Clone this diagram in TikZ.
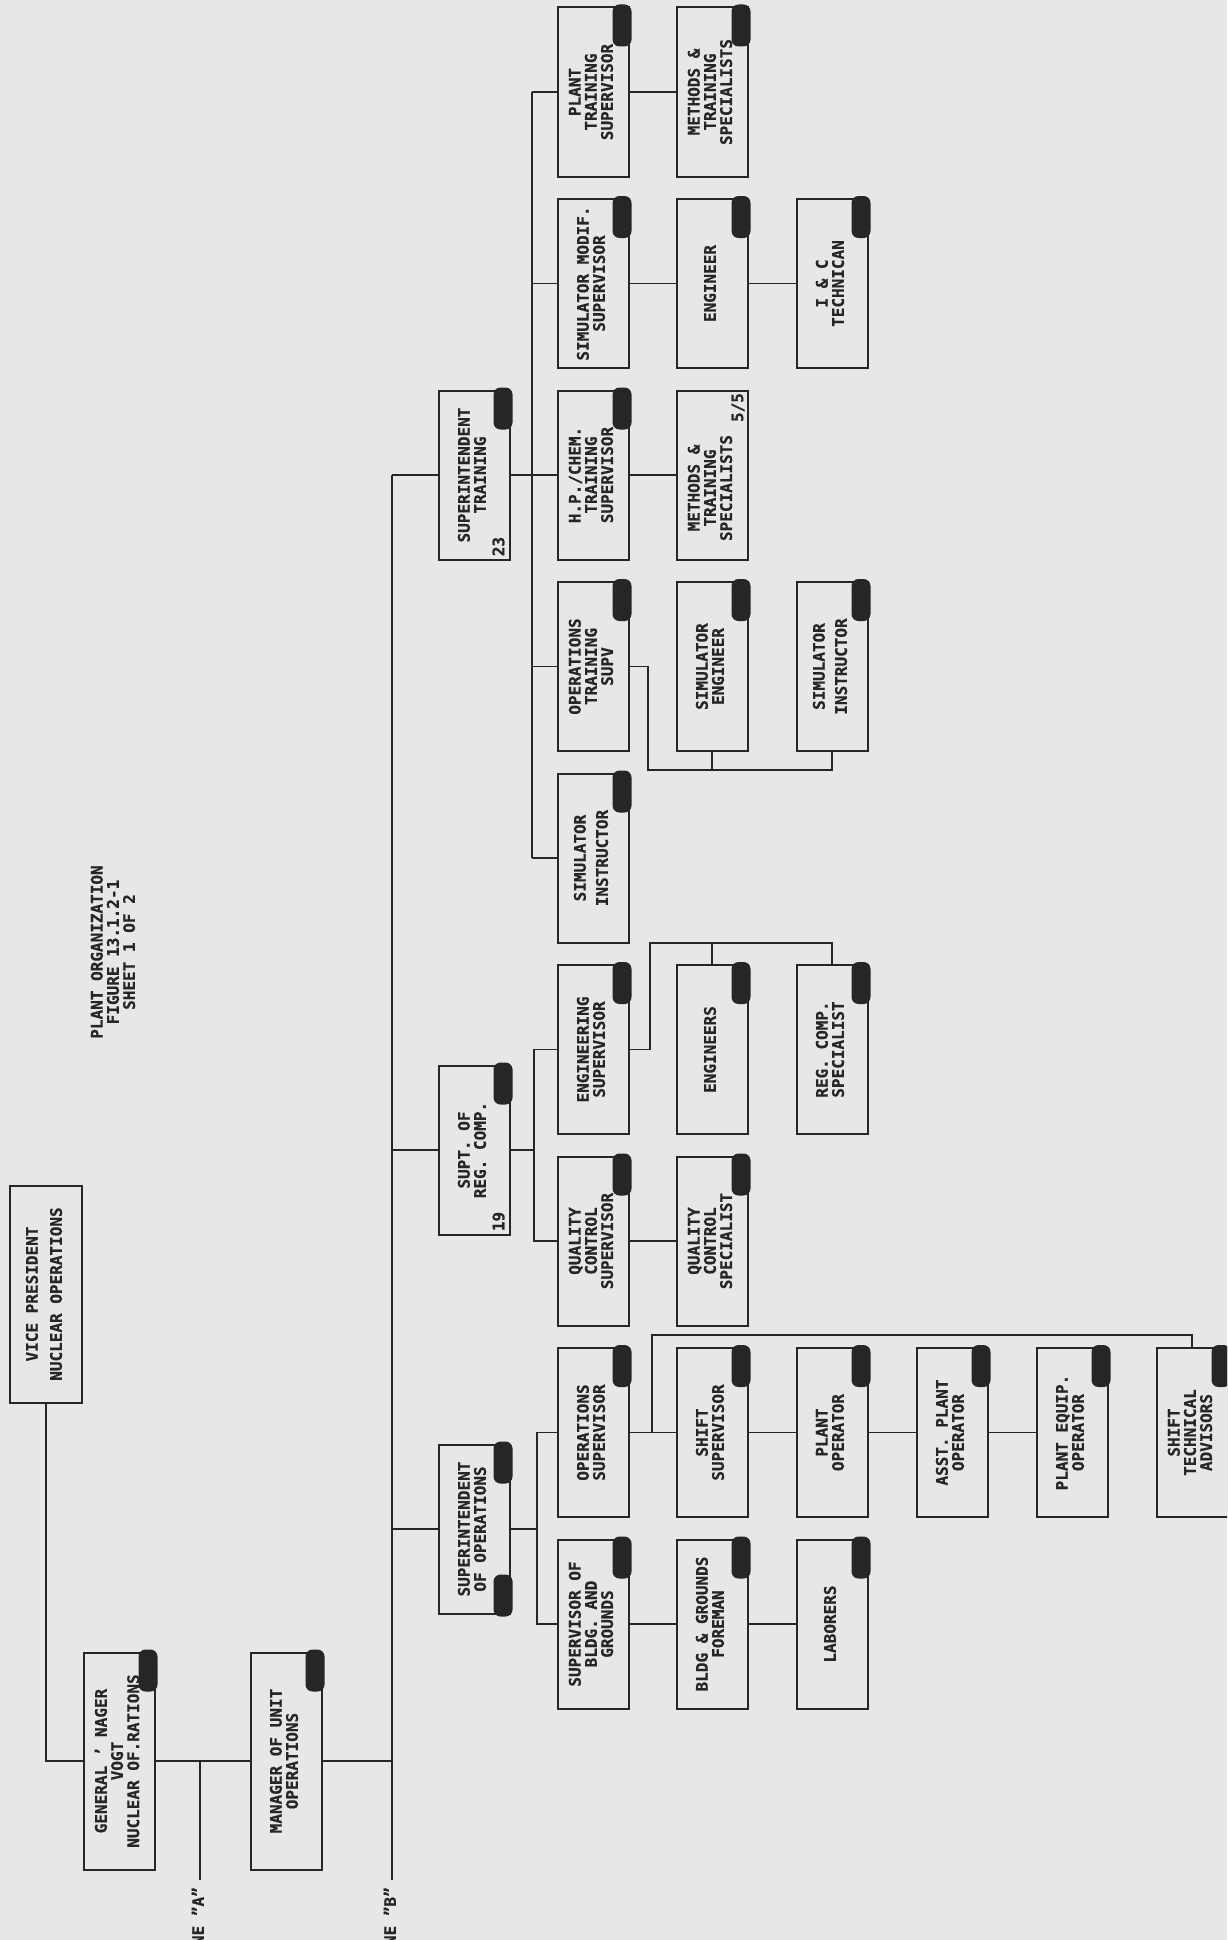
\documentclass[tikz,border=0pt]{standalone}
\usepackage{fontspec}
\setmainfont[FakeBold=0.6]{DejaVu Sans Mono}
\usepackage{graphicx}
\usepackage{xcolor}
\usepackage{tikz}
\usetikzlibrary{positioning}

\definecolor{paper}{HTML}{E7E7E5}
\definecolor{ink}{HTML}{262626}
\newcommand{\chart}{\fontsize{16}{15}\selectfont\bfseries}
\newcommand{\up}[1]{\rotatebox{90}{\begin{tabular}{@{}c@{}}#1\end{tabular}}}
\renewcommand{\arraystretch}{0.95}

\begin{document}
\begin{tikzpicture}[x=1pt,y=-1pt]
    \tikzstyle{post} = [rectangle, draw=ink, line width=2pt, inner sep=0pt,
        minimum width=71pt, minimum height=169pt, text=ink, font=\chart]
    \tikzstyle{head} = [post, minimum height=217pt]
    \tikzstyle{tag} = [inner sep=0pt, text=ink, font=\chart]
    \tikzstyle{link} = [draw=ink, line width=1.2pt]
    \tikzstyle{blot} = [fill=ink, rounded corners=7pt]

    \fill[paper] (0,0) rectangle (1227,1940);
    \clip (0,0) rectangle (1227,1940);

    % heads
    \node (vp) [head, minimum width=72pt] at (46,1294) {\up{VICE PRESIDENT\\[8pt]NUCLEAR OPERATIONS}};
    \node (gm) [head] at (119,1761) {\up{GENERAL ' NAGER\\VOGT\\NUCLEAR OF.RATIONS}};
    \node (muo) [head] at (286,1761) {\up{MANAGER OF UNIT\\OPERATIONS}};
    \node (title) [tag] at (115,952) {\up{PLANT ORGANIZATION\\FIGURE 13.1.2-1\\SHEET 1 OF 2}};

    % superintendents
    \node (suptr) [post] at (474,475) {\up{SUPERINTENDENT\\TRAINING}};
    \node (suprc) [post] at (474,1150) {\up{SUPT. OF\\REG. COMP.}};
    \node (supops) [post] at (474,1529) {\up{SUPERINTENDENT\\OF OPERATIONS}};

    % supervisors
    \node (ptsup) [post] at (593,92) {\up{PLANT\\TRAINING\\SUPERVISOR}};
    \node (simmod) [post] at (593,283.5) {\up{SIMULATOR MODIF.\\SUPERVISOR}};
    \node (hpchem) [post] at (593,475) {\up{H.P./CHEM.\\TRAINING\\SUPERVISOR}};
    \node (optrn) [post] at (593,666.5) {\up{OPERATIONS\\TRAINING\\SUPV}};
    \node (siminsA) [post] at (593,858) {\up{SIMULATOR\\[6pt]INSTRUCTOR}};
    \node (engsup) [post] at (593,1049.5) {\up{ENGINEERING\\SUPERVISOR}};
    \node (qcsup) [post] at (593,1241) {\up{QUALITY\\CONTROL\\SUPERVISOR}};
    \node (opsup) [post] at (593,1432.5) {\up{OPERATIONS\\SUPERVISOR}};
    \node (bldgsup) [post] at (593,1624) {\up{SUPERVISOR OF\\BLDG. AND\\GROUNDS}};

    % staff
    \node (methA) [post] at (712,92) {\up{METHODS \&\\TRAINING\\SPECIALISTS}};
    \node (eng) [post] at (712,283.5) {\up{ENGINEER}};
    \node (methB) [post] at (712,475) {\rotatebox{90}{\begin{tabular}{@{}c@{}}METHODS \&\\TRAINING\\SPECIALISTS\end{tabular}\hspace{26pt}}};
    \node (simeng) [post] at (712,666.5) {\up{SIMULATOR\\ENGINEER}};
    \node (engs) [post] at (712,1049.5) {\up{ENGINEERS}};
    \node (qcspec) [post] at (712,1241) {\up{QUALITY\\CONTROL\\SPECIALIST}};
    \node (shiftsup) [post] at (712,1432.5) {\up{SHIFT\\SUPERVISOR}};
    \node (foreman) [post] at (712,1624) {\up{BLDG \& GROUNDS\\FOREMAN}};

    \node (ictech) [post] at (832,283.5) {\up{I \& C\\TECHNICAN}};
    \node (siminsB) [post] at (832,666.5) {\up{SIMULATOR\\[6pt]INSTRUCTOR}};
    \node (regspec) [post] at (832,1049.5) {\up{REG. COMP.\\SPECIALIST}};
    \node (plantop) [post] at (832,1432.5) {\up{PLANT\\OPERATOR}};
    \node (laborers) [post] at (832,1624) {\up{LABORERS}};

    \node (asstop) [post] at (952,1432.5) {\up{ASST. PLANT\\OPERATOR}};
    \node (equipop) [post] at (1072,1432.5) {\up{PLANT EQUIP.\\OPERATOR}};
    \node (sta) [post] at (1192,1432.5) {\up{SHIFT\\TECHNICAL\\ADVISORS}};

    % counts
    \node (n23) [tag] at ([xshift=-10pt,yshift=14pt]suptr.south east) {\up{23}};
    \node (n19) [tag] at ([xshift=-10pt,yshift=14pt]suprc.south east) {\up{19}};
    \node (n55) [tag] at ([xshift=-9pt,yshift=-18pt]methB.north east) {\up{5/5}};

    % line A and line B
    \coordinate (busA) at (200,1880);
    \coordinate (busB) at (392,1880);
    \node (lblA) [tag, anchor=north] at ([yshift=-7pt]busA) {\up{LINE "A"}};
    \node (lblB) [tag, anchor=north] at ([yshift=-7pt]busB) {\up{LINE "B"}};

    \draw[link] (vp.south) |- (gm.west);
    \draw[link] (gm) -- (muo);
    \draw[link] (gm -| busA) -- (busA);
    \draw[link] (muo.east) -- (muo.east -| busB);
    \draw[link] (suptr.west -| busB) -- (busB);
    \draw[link] (suptr.west -| busB) -- (suptr.west);
    \draw[link] (suprc.west -| busB) -- (suprc.west);
    \draw[link] (supops.west -| busB) -- (supops.west);

    % training
    \coordinate (trn) at (532,0);
    \coordinate (trn2) at (648,770);
    \draw[link] (ptsup.west -| trn) -- (siminsA.west -| trn);
    \foreach \n in {ptsup,simmod,hpchem,optrn,siminsA}
        \draw[link] (\n.west) -- (\n.west -| trn);
    \draw[link] (suptr) -- (hpchem);
    \draw[link] (ptsup) -- (methA);
    \draw[link] (simmod) -- (eng);
    \draw[link] (eng) -- (ictech);
    \draw[link] (hpchem) -- (methB);
    \draw[link] (optrn.east) -| (trn2) -- (trn2 -| siminsB.south) -- (siminsB.south);
    \draw[link] (simeng.south) -- (simeng.south |- trn2);

    % regulatory compliance
    \coordinate (rc) at (534,0);
    \coordinate (rc2) at (650,943);
    \draw[link] (engsup.west) -| (rc |- qcsup.west) -- (qcsup.west);
    \draw[link] (suprc) -- (suprc -| rc);
    \draw[link] (qcsup) -- (qcspec);
    \draw[link] (engsup.east) -| (rc2) -- (rc2 -| regspec.north) -- (regspec.north);
    \draw[link] (engs.north) -- (engs.north |- rc2);

    % operations
    \coordinate (op) at (537,0);
    \coordinate (op2) at (652,1335);
    \draw[link] (opsup.west) -| (op |- bldgsup.west) -- (bldgsup.west);
    \draw[link] (supops) -- (supops -| op);
    \draw[link] (opsup) -- (shiftsup);
    \draw[link] (shiftsup) -- (plantop);
    \draw[link] (plantop) -- (asstop);
    \draw[link] (asstop) -- (equipop);
    \draw[link] (opsup.east -| op2) -- (op2) -| (sta.north);
    \draw[link] (bldgsup) -- (foreman);
    \draw[link] (foreman) -- (laborers);

    % ink blots on the corners
    \foreach \b in {gm,muo,suptr,suprc,supops,ptsup,methA,simmod,eng,ictech,hpchem,
        optrn,simeng,siminsB,siminsA,engsup,engs,regspec,qcsup,qcspec,opsup,
        shiftsup,plantop,asstop,equipop,sta,bldgsup,foreman,laborers}
        \fill[blot] ([xshift=-17pt,yshift=2pt]\b.north east) rectangle ([xshift=2pt,yshift=-40pt]\b.north east);
    \fill[blot] ([xshift=-17pt,yshift=40pt]supops.south east) rectangle ([xshift=2pt,yshift=-2pt]supops.south east);
\end{tikzpicture}
\end{document}
